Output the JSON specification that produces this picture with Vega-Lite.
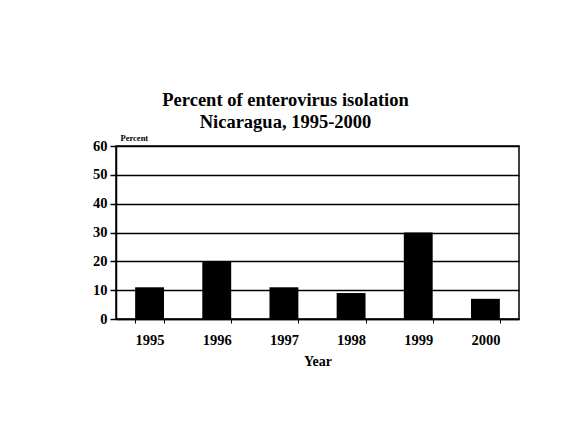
{
  "$schema": "https://vega.github.io/schema/vega-lite/v6.json",
  "width": 403,
  "height": 173,
  "autosize": {"type": "none"},
  "padding": {"left": 116, "top": 146, "right": 51, "bottom": 109},
  "background": "white",
  "title": {
    "text": ["Percent of enterovirus isolation", "Nicaragua, 1995-2000"],
    "font": "Liberation Serif",
    "fontSize": 18.5,
    "fontWeight": "bold",
    "color": "black",
    "anchor": "middle",
    "dx": -32,
    "offset": 2,
    "lineHeight": 22
  },
  "data": {
    "values": [
      {"Year": "1995", "Percent": 11},
      {"Year": "1996", "Percent": 20},
      {"Year": "1997", "Percent": 11},
      {"Year": "1998", "Percent": 9},
      {"Year": "1999", "Percent": 30},
      {"Year": "2000", "Percent": 7}
    ]
  },
  "mark": {"type": "bar", "color": "black"},
  "encoding": {
    "x": {
      "field": "Year",
      "type": "ordinal",
      "scale": {"paddingInner": 0.57, "paddingOuter": 0.285},
      "axis": {
        "labelAngle": 0,
        "tickBand": "extent",
        "tickSize": 4,
        "tickColor": "black",
        "domainColor": "black",
        "domainWidth": 1.5,
        "labelFont": "Liberation Serif",
        "labelFontWeight": "bold",
        "labelFontSize": 14.5,
        "labelColor": "black",
        "labelPadding": 10,
        "title": "Year",
        "titleFont": "Liberation Serif",
        "titleFontWeight": "bold",
        "titleFontSize": 14,
        "titleColor": "black",
        "titlePadding": 8
      }
    },
    "y": {
      "field": "Percent",
      "type": "quantitative",
      "scale": {"domain": [0, 60], "nice": false},
      "axis": {
        "values": [0, 10, 20, 30, 40, 50, 60],
        "grid": true,
        "gridColor": "black",
        "gridWidth": 1.5,
        "gridOpacity": 1,
        "tickSize": 6,
        "tickColor": "black",
        "tickWidth": 1.5,
        "domainColor": "black",
        "domainWidth": 1.5,
        "labelFont": "Liberation Serif",
        "labelFontWeight": "bold",
        "labelFontSize": 14.5,
        "labelColor": "black",
        "labelPadding": 3,
        "title": "Percent",
        "titleFont": "Liberation Serif",
        "titleFontWeight": "bold",
        "titleFontSize": 8.5,
        "titleColor": "black",
        "titleAngle": 0,
        "titleAlign": "left",
        "titleBaseline": "alphabetic",
        "titleX": 4,
        "titleY": -6
      }
    }
  },
  "config": {
    "view": {"stroke": "black", "strokeWidth": 1.5}
  }
}
